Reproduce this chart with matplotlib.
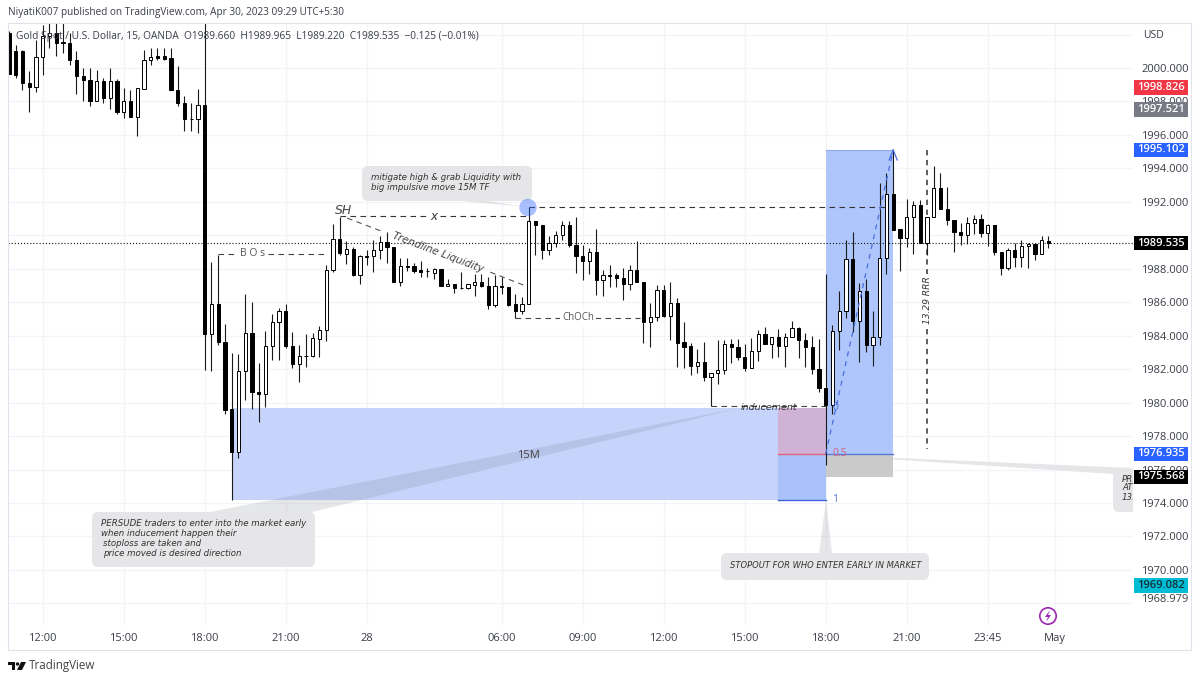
import matplotlib
matplotlib.use('Agg')
import matplotlib.pyplot as plt
import matplotlib.transforms as mtrans
from matplotlib.patches import Rectangle, Polygon, FancyBboxPatch, Circle
import numpy as np

plt.rcParams['font.family'] = ['Open Sans', 'DejaVu Sans']

# OHLC, one value per 15 minute bar
opens = [2002.07, 2001.0, 2001.0, 1999.1, 1998.85, 2000.65, 2001.9, 2002.1, 2001.55, 2001.5,
         2000.5, 1999.5, 1999.3, 1998.05, 1999.25, 1998.2, 1999.2, 1997.35, 1998.05, 1997.05,
         1998.75, 2000.5, 2000.7, 2000.7, 2000.6, 1998.7, 1997.9, 1996.95, 1996.95, 1997.8,
         1984.1, 1985.9, 1983.65, 1979.6, 1977.05, 1981.9, 1984.15, 1980.65, 1980.5, 1983.4,
         1984.8, 1985.45, 1983.4, 1982.3, 1982.8, 1982.8, 1983.8, 1984.35, 1987.9, 1989.8,
         1988.9, 1989.2, 1987.6, 1988.75, 1988.75, 1989.1, 1989.6, 1989.3, 1987.2, 1988.15,
         1988.15, 1987.9, 1987.85, 1987.75, 1988.0, 1986.95, 1987.1, 1986.85, 1986.85, 1987.05,
         1987.2, 1986.95, 1985.85, 1987.0, 1986.9, 1985.9, 1985.5, 1985.9, 1990.85, 1990.6,
         1989.1, 1989.55, 1990.0, 1990.6, 1989.4, 1988.75, 1988.45, 1989.0, 1987.3, 1987.6,
         1987.6, 1987.45, 1987.1, 1987.95, 1987.2, 1984.8, 1985.1, 1986.75, 1985.2, 1985.95,
         1983.6, 1983.4, 1982.2, 1982.45, 1981.55, 1981.8, 1981.95, 1983.5, 1983.3, 1982.75,
         1982.05, 1983.1, 1984.1, 1983.5, 1983.9, 1983.4, 1983.9, 1984.45, 1983.75, 1983.35,
         1982.0, 1980.9, 1979.85, 1984.3, 1985.5, 1988.6, 1984.85, 1986.65, 1983.45, 1983.9,
         1988.65, 1992.45, 1990.35, 1989.85, 1991.1, 1991.8, 1989.55, 1991.1, 1992.8, 1991.55,
         1990.9, 1990.2, 1990.0, 1990.75, 1990.95, 1990.15, 1990.6, 1989.0, 1988.05, 1989.15,
         1988.7, 1989.35, 1989.5, 1988.9, 1989.66]
highs = [2002.2, 2001.4, 2001.1, 1999.8, 2001.7, 2002.6, 2002.8, 2002.8, 2002.8, 2002.1,
         2001.0, 2000.0, 2000.0, 1999.9, 1999.4, 2000.0, 1999.35, 1998.8, 1998.7, 1998.8,
         2001.1, 2001.2, 2001.2, 2001.2, 2001.2, 2000.1, 1998.35, 1997.9, 1998.75, 2002.7,
         1988.4, 1988.85, 1984.7, 1982.95, 1982.9, 1986.5, 1986.0, 1982.35, 1984.3, 1985.3,
         1985.65, 1985.9, 1984.2, 1983.45, 1984.1, 1984.15, 1984.6, 1988.2, 1990.65, 1991.1,
         1989.65, 1989.3, 1988.8, 1989.1, 1989.75, 1989.95, 1990.2, 1989.3, 1988.65, 1988.65,
         1988.35, 1988.45, 1988.05, 1988.05, 1988.0, 1987.4, 1987.1, 1987.8, 1987.1, 1987.7,
         1987.7, 1987.5, 1987.6, 1987.5, 1986.9, 1986.5, 1986.3, 1991.7, 1990.85, 1990.6,
         1989.95, 1990.25, 1990.85, 1990.85, 1991.1, 1989.45, 1989.25, 1990.4, 1987.95, 1988.2,
         1987.75, 1988.05, 1988.25, 1989.65, 1987.2, 1985.95, 1987.05, 1987.05, 1987.2, 1986.25,
         1984.8, 1983.55, 1983.2, 1983.65, 1981.8, 1983.75, 1983.75, 1983.8, 1983.8, 1983.5,
         1983.85, 1984.35, 1984.5, 1983.95, 1984.4, 1984.15, 1984.9, 1984.55, 1984.15, 1984.0,
         1983.8, 1987.68, 1984.65, 1986.7, 1989.75, 1990.2, 1987.15, 1987.4, 1985.5, 1993.1,
         1993.75, 1995.15, 1990.35, 1992.2, 1992.05, 1992.1, 1991.1, 1994.15, 1993.75, 1992.9,
         1990.9, 1990.75, 1991.1, 1991.2, 1991.3, 1990.65, 1990.6, 1989.0, 1989.25, 1989.55,
         1989.75, 1989.55, 1989.5, 1989.95, 1989.965]
lows = [1999.64, 1999.4, 1998.7, 1997.4, 1998.55, 1999.6, 2001.2, 2000.7, 2000.9, 2000.2,
        1998.45, 1998.05, 1997.7, 1998.05, 1997.9, 1997.55, 1997.25, 1997.0, 1997.05, 1995.95,
        1998.75, 2000.2, 2000.45, 2000.45, 1998.7, 1997.7, 1996.25, 1996.25, 1996.1, 1981.95,
        1981.9, 1983.45, 1979.35, 1974.18, 1976.7, 1980.15, 1979.6, 1978.85, 1979.75, 1982.55,
        1982.55, 1983.25, 1982.05, 1981.25, 1982.15, 1982.7, 1982.7, 1983.7, 1987.8, 1988.85,
        1988.3, 1987.55, 1987.1, 1988.2, 1987.8, 1988.6, 1988.35, 1987.2, 1986.95, 1987.85,
        1987.75, 1987.5, 1987.5, 1987.4, 1986.95, 1986.95, 1986.55, 1986.8, 1986.8, 1986.4,
        1986.9, 1985.6, 1985.7, 1986.5, 1985.75, 1985.05, 1985.3, 1985.9, 1988.8, 1988.6,
        1988.8, 1989.3, 1989.75, 1989.3, 1987.75, 1987.35, 1987.7, 1986.45, 1986.35, 1986.9,
        1986.9, 1986.15, 1986.75, 1987.2, 1983.55, 1983.35, 1984.85, 1985.1, 1983.75, 1982.15,
        1982.1, 1981.65, 1981.75, 1981.3, 1979.8, 1981.1, 1981.7, 1982.35, 1982.55, 1981.9,
        1982.05, 1982.5, 1983.5, 1982.65, 1982.75, 1982.15, 1983.9, 1982.65, 1982.15, 1981.7,
        1980.65, 1976.27, 1979.35, 1983.15, 1985.05, 1984.25, 1982.45, 1983.05, 1982.2, 1983.45,
        1987.7, 1990.3, 1987.85, 1989.3, 1988.9, 1989.55, 1988.85, 1991.1, 1991.55, 1990.6,
        1989.0, 1989.45, 1989.5, 1990.05, 1989.9, 1989.35, 1988.8, 1987.6, 1987.95, 1988.1,
        1988.1, 1988.05, 1988.55, 1988.9, 1989.22]
closes = [1999.64, 1999.6, 1999.1, 1998.85, 2000.65, 2001.9, 2002.1, 2001.5, 2001.5, 2000.45,
          1999.5, 1999.3, 1998.05, 1999.25, 1998.2, 1999.2, 1997.35, 1998.05, 1997.05, 1998.8,
          2000.5, 2000.65, 2000.6, 2000.55, 1998.7, 1997.9, 1996.95, 1996.97, 1997.8, 1984.1,
          1985.9, 1983.65, 1979.55, 1977.05, 1981.9, 1984.15, 1980.65, 1980.5, 1983.4, 1984.8,
          1985.45, 1983.4, 1982.3, 1982.8, 1982.78, 1983.85, 1984.35, 1987.9, 1989.8, 1988.95,
          1989.2, 1987.6, 1988.75, 1988.73, 1989.1, 1989.6, 1989.3, 1987.2, 1988.15, 1988.13,
          1987.85, 1987.8, 1987.87, 1988.0, 1986.95, 1987.1, 1986.85, 1986.83, 1987.1, 1987.2,
          1986.95, 1985.85, 1987.0, 1986.9, 1985.85, 1985.5, 1985.9, 1990.85, 1990.6, 1989.1,
          1989.55, 1990.0, 1990.6, 1989.4, 1988.75, 1988.45, 1989.0, 1987.3, 1987.6, 1987.58,
          1987.45, 1987.1, 1987.95, 1987.2, 1984.8, 1985.1, 1986.75, 1985.2, 1985.95, 1983.55,
          1983.35, 1982.2, 1982.45, 1981.55, 1981.8, 1981.95, 1983.5, 1983.3, 1982.7, 1982.05,
          1983.1, 1984.1, 1983.5, 1983.9, 1983.4, 1983.95, 1984.45, 1983.75, 1983.35, 1982.0,
          1980.85, 1979.85, 1984.3, 1985.5, 1988.6, 1984.85, 1986.65, 1983.45, 1983.9, 1988.65,
          1992.45, 1990.3, 1989.85, 1991.1, 1991.8, 1989.55, 1991.1, 1992.8, 1991.55, 1990.9,
          1990.2, 1990.0, 1990.75, 1990.95, 1990.15, 1990.6, 1989.0, 1988.05, 1989.15, 1988.7,
          1989.35, 1989.5, 1988.9, 1989.7, 1989.535]

time_ticks = [5, 17, 29, 41, 53, 73, 85, 97, 109, 121, 133, 145, 155]
time_labels = ['12:00', '15:00', '18:00', '21:00', '28', '06:00', '09:00', '12:00', '15:00',
               '18:00', '21:00', '23:45', 'May']
price_ticks = list(range(1968, 2003, 2))
# 1990 sits under the last price tag, 1968 and 2002 have no label on the chart
price_labels = ['' if p in (1968, 1990, 2002) else f'{p}.000' for p in price_ticks]

last_price = 1989.535
tag_prices = [1998.826, 1997.521, 1995.102, 1989.535, 1976.935, 1975.568, 1969.082]
tag_colors = ['#f23645', '#787b86', '#2962ff', '#000000', '#2962ff', '#000000', '#00bcd4']
tag_text = ['white', 'white', 'white', 'white', 'white', 'white', '#10333a']

W, H = 1200, 681
fig = plt.figure(figsize=(W / 100, H / 100), dpi=100, facecolor='white')
ax = fig.add_axes([8 / W, (H - 625) / H, 1125 / W, 602 / H])
ax.set_xlim(-0.14, 166.53)
ax.set_ylim(1966.71, 2002.69)

# pixel coords of the picture, for the notes drawn on top
pix = mtrans.Affine2D().scale(1 / W, -1 / H).translate(0, 1) + fig.transFigure
tag_tf = mtrans.blended_transform_factory(pix, ax.transData)

for s in ax.spines.values():
    s.set_visible(False)
ax.set_axisbelow(True)
ax.grid(True, color='#f3f4f8', lw=0.9)
ax.set_xticks(time_ticks)
ax.set_xticklabels(time_labels, fontsize=8, color='#3a3e47')
ax.set_yticks(price_ticks)
ax.set_yticklabels(price_labels, fontsize=8, color='#3a3e47')
ax.yaxis.tick_right()
ax.tick_params(axis='x', length=0, pad=6)
ax.tick_params(axis='y', length=0, pad=6)

# position tool and zones
ax.add_patch(Rectangle((33, 1974.18), 81, 5.5, fc='#c6d4fc', ec='none', zorder=1.5))
ax.add_patch(Rectangle((114, 1976.935), 7, 2.745, fc='#cfb2d5', ec='none', zorder=1.6))
ax.add_patch(Rectangle((114, 1974.18), 7, 2.755, fc='#a9c3fa', ec='none', zorder=1.6))
ax.add_patch(Rectangle((121, 1976.935), 10, 18.167, fc='#aec6fb', ec='none', zorder=1.6))
ax.add_patch(Rectangle((121, 1975.568), 10, 1.367, fc='#cacaca', ec='none', zorder=1.6))
ax.plot([114, 121], [1976.935, 1976.935], color='#e0607a', lw=1, zorder=1.7)
ax.plot([121, 131], [1976.935, 1976.935], color='#5a78d8', lw=1, zorder=1.7)
ax.plot([114, 121], [1974.18, 1974.18], color='#3f62d8', lw=1, zorder=1.7)
ax.plot([121, 131], [1995.102, 1995.102], color='#8fabf0', lw=0.8, zorder=1.7)

# candles
bars = np.arange(len(opens))
opens_a, closes_a = np.array(opens), np.array(closes)
ax.vlines(bars, lows, highs, color='#1a1a1a', lw=0.8, zorder=3)
ax.bar(bars, np.abs(closes_a - opens_a), bottom=np.minimum(opens_a, closes_a), width=0.48,
       color=['white' if c >= o else '#000000' for o, c in zip(opens, closes)],
       edgecolor='#000000', linewidth=0.7, zorder=4)
ax.axhline(last_price, color='#111111', lw=0.8, ls=(0, (1, 1.8)), zorder=3.5)

# dashed levels
dash = (0, (5, 4))
ax.plot([31, 47], [1988.88, 1988.88], color='#444444', lw=0.8, ls=dash, zorder=2.8)
ax.plot([49, 77], [1991.15, 1991.15], color='#333333', lw=0.8, ls=dash, zorder=2.8)
ax.plot([75, 93.5], [1985.05, 1985.05], color='#444444', lw=0.8, ls=dash, zorder=2.8)
ax.plot([104, 121], [1979.78, 1979.78], color='#444444', lw=0.8, ls=dash, zorder=2.8)
ax.plot([77, 130], [1991.7, 1991.7], color='#333333', lw=0.8, ls=dash, zorder=2.8)
ax.plot([50.1, 55.5], [1991.03, 1990.2], color='#555555', lw=0.8, ls=dash, zorder=2.8)
ax.plot([71.3, 76.2], [1987.8, 1987.03], color='#555555', lw=0.8, ls=dash, zorder=2.8)
ax.plot([121, 131], [1976.935, 1995.102], color='#4a6fe0', lw=0.9, ls=(0, (4, 4)), zorder=4.5)
ax.plot([130.4, 131, 131.6], [1994.5, 1995.102, 1994.5], color='#4a6fe0', lw=0.9, zorder=4.5)
ax.plot([136, 136], [1995.1, 1987.7], color='#333333', lw=1.1, ls=(0, (3.5, 3)), zorder=2.8)
ax.plot([136, 136], [1984.4, 1977.2], color='#333333', lw=1.1, ls=(0, (3.5, 3)), zorder=2.8)


def note(x, y, s, size=6.2, color='#333333', ha='left', va='center', rot=0, **kw):
    return ax.text(x, y, s, transform=pix, fontsize=size, color=color, ha=ha, va=va, rotation=rot,
                   family='DejaVu Sans', style='oblique', zorder=6, rotation_mode='anchor', **kw)


def callout(x0, y0, x1, y1, tail):
    ax.add_patch(Polygon(tail, closed=True, transform=pix, fc='#787b86', alpha=0.18, ec='none', zorder=2))
    ax.add_patch(FancyBboxPatch((x0, y0), x1 - x0, y1 - y0, boxstyle='round,pad=0,rounding_size=6',
                                transform=pix, fc='#e6e6e8', ec='none', zorder=2))


callout(92, 512, 315, 567, [(740, 408), (210, 512), (312, 512)])
note(101, 524, 'PERSUDE traders to enter into the market early')
note(101, 534, 'when inducement happen their')
note(103, 543, 'stoploss are taken and')
note(103, 553, 'price moved is desired direction')

callout(362, 166, 532, 201, [(528, 207), (450, 200), (480, 200)])
note(371, 178, 'mitigate high & grab Liquidity with')
note(371, 188, 'big impulsive move 15M TF')

callout(721, 553, 929, 580, [(826, 500), (819, 553), (832, 553)])
note(730, 566, 'STOPOUT FOR WHO ENTER EARLY IN MARKET', size=6.0)

# the note running off the right side, cut by the pane
ax.add_patch(Polygon([(826, 455), (1133, 468), (1113, 474)], closed=True, transform=pix,
                     fc='#e6e6e8', ec='none', zorder=1.2))
right_box = FancyBboxPatch((1113, 469), 60, 43, boxstyle='round,pad=0,rounding_size=6',
                           transform=pix, fc='#e6e6e8', ec='none', zorder=2)
ax.add_patch(right_box)
for yy, s in zip([479, 488, 498], ['PR', 'AT', '13.']):
    note(1122, yy, s, clip_on=True)

ax.add_patch(Circle((528, 207.5), 8.7, transform=pix, fc='#2962ff', alpha=0.4, ec='none', zorder=5))

note(344, 211, 'SH', size=9, ha='center', color='#444444')
note(434, 216, 'x', size=8.5, ha='center', bbox=dict(fc='white', ec='none', pad=1.5))
ax.text(253, 254, 'B O s', transform=pix, fontsize=7.5, color='#555555', ha='center', va='center',
        zorder=6, bbox=dict(fc='white', ec='none', pad=1.5))
ax.text(578, 318, 'ChOCh', transform=pix, fontsize=7, color='#555555', ha='center', va='center',
        zorder=6, bbox=dict(fc='white', ec='none', pad=1.5))
note(769, 407, 'inducement', size=6.8, ha='center')
note(438, 252, 'Trendline Liquidity', size=7.6, ha='center', rot=-20.8, color='#444444')
ax.text(528, 455, '15M', transform=pix, fontsize=8, color='#444444', ha='center', va='center', zorder=6)
note(927, 300, '13.29 RRR', size=6.6, ha='center', rot=90)
ax.text(835, 408, '0', transform=pix, fontsize=7.5, color='#4a6fe0', ha='center', va='center', zorder=6)
ax.text(840, 454, '0.5', transform=pix, fontsize=7.5, color='#d0607f', ha='center', va='center', zorder=6)
ax.text(835, 500, '1', transform=pix, fontsize=7.5, color='#5a78d8', ha='center', va='center', zorder=6)

# price tags over the axis labels
for price, col, tcol in zip(tag_prices, tag_colors, tag_text):
    ax.add_patch(Rectangle((1134, price - 0.43), 54, 0.86, transform=tag_tf, fc=col, ec='none',
                           clip_on=False, zorder=8))
    ax.text(1161, price, f'{price:.3f}', transform=tag_tf, fontsize=8, color=tcol, fontweight='semibold',
            ha='center', va='center', zorder=9, clip_on=False)
ax.text(1141, 600, '1968.979', transform=pix, fontsize=8, color='#3a3e47', va='center', clip_on=False, zorder=9)
ax.text(1143, 35, 'USD', transform=pix, fontsize=7.5, color='#3a3e47', va='center', clip_on=False, zorder=9)

# frame, header, legend
fig.add_artist(Rectangle((8, 23), 1183, 627, transform=pix, fc='none', ec='#e0e3eb', lw=0.8))
fig.text(8 / W, 1 - 13 / H, 'NiyatiK007 published on TradingView.com, Apr 30, 2023 09:29 UTC+5:30',
         fontsize=7.2, color='#3a3e47', va='center')
ax.text(16, 36, 'Gold Spot / U.S. Dollar, 15, OANDA  O1989.660  H1989.965  L1989.220  C1989.535  \u22120.125 (\u22120.01%)',
        transform=pix, fontsize=7.25, color='#3a3e47', va='center', zorder=7)

# logo and the purple bolt
for poly in ([(8, 662), (15, 662), (15, 670), (12, 670), (12, 665), (8, 665)],
             [(21, 662), (26, 662), (22, 670), (17, 670)]):
    fig.add_artist(Polygon(poly, closed=True, transform=pix, fc='#111111', ec='none'))
fig.add_artist(Circle((17.5, 664), 1.7, transform=pix, fc='#111111', ec='none'))
fig.text(29 / W, 1 - 666 / H, 'TradingView', fontsize=8.4, color='#444444', va='center')
ax.add_patch(Circle((1048, 616), 8.2, transform=pix, fc='white', ec='#9c27b0', lw=1.2, zorder=6))
ax.add_patch(Polygon([(1050, 610), (1045, 617), (1048, 617), (1046, 622), (1051, 615), (1048, 615)],
                     closed=True, transform=pix, fc='#9c27b0', ec='none', zorder=7))

fig.savefig('out.png', dpi=100, facecolor='white')
